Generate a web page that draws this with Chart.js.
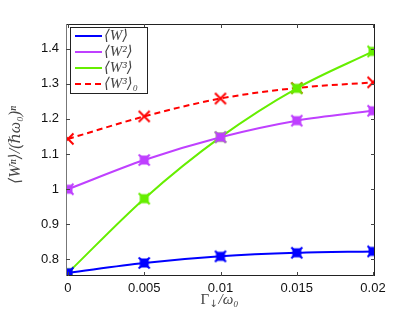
<!DOCTYPE html>
<html>
<head>
<meta charset="utf-8">
<script src="https://cdn.jsdelivr.net/npm/chart.js@4"></script>
<style>
  html, body { margin: 0; padding: 0; background: #fff; }
  #wrap { width: 415px; height: 313px; }
</style>
</head>
<body>
<div id="wrap"><canvas id="c" width="415" height="313"></canvas></div>
<script>
// valores
const gamma = [0, 0.005, 0.01, 0.015, 0.02];
const w1 = [0.762, 0.790, 0.809, 0.819, 0.823];
const w2 = [1.000, 1.083, 1.148, 1.195, 1.223];
const w3 = [0.762, 0.973, 1.148, 1.287, 1.392];
const w3_0 = [1.143, 1.207, 1.258, 1.288, 1.304];
const xTicks = [0, 0.005, 0.01, 0.015, 0.02];
const yTicks = [0.8, 0.9, 1.0, 1.1, 1.2, 1.3, 1.4];
const xLabels = ['0', '0.005', '0.01', '0.015', '0.02'];
const yLabels = ['0.8', '0.9', '1', '1.1', '1.2', '1.3', '1.4'];
const legendLabels = ['\u27E8W\u27E9', '\u27E8W\u00B2\u27E9', '\u27E8W\u00B3\u27E9', '\u27E8W\u00B3\u27E9\u2080'];

const BLUE = '#0000ff', PURPLE = '#bf40ff', GREEN = '#66ee00', RED = '#ff0000';

// marcador: quadrado cheio + x
function marker(color, square) {
  const c = document.createElement('canvas');
  c.width = 14; c.height = 14;
  const g = c.getContext('2d');
  g.fillStyle = color; g.strokeStyle = color; g.lineWidth = 2;
  if (square) g.fillRect(2.5, 2.5, 9, 9);
  g.beginPath();
  g.moveTo(1.5, 1.5); g.lineTo(12.5, 12.5);
  g.moveTo(12.5, 1.5); g.lineTo(1.5, 12.5);
  g.stroke();
  return c;
}

function ds(label, data, color, dashed) {
  return {
    label, data: gamma.map((x, i) => ({ x, y: data[i] })),
    borderColor: color, backgroundColor: color, borderWidth: 2,
    borderDash: dashed ? [6, 4] : [],
    cubicInterpolationMode: 'monotone',
    pointStyle: marker(color, !dashed), pointRadius: 7,
  };
}

const SERIF = '"Liberation Serif", "DejaVu Serif", serif';

const boxPlugin = {
  id: 'box',
  afterDraw(chart) {
    const { ctx, chartArea: a, scales: { x, y } } = chart;
    ctx.save();
    ctx.strokeStyle = '#222'; ctx.lineWidth = 1;
    ctx.strokeRect(a.left + 0.5, a.top + 0.5, a.right - a.left - 1, a.bottom - a.top - 1);
    ctx.strokeStyle = '#777';
    ctx.beginPath(); ctx.moveTo(a.left + 0.5, a.top); ctx.lineTo(a.left + 0.5, a.bottom); ctx.stroke();
    ctx.strokeStyle = '#444';
    ctx.beginPath();
    xTicks.forEach(v => {
      const px = Math.round(x.getPixelForValue(v)) + 0.5;
      ctx.moveTo(px, a.bottom); ctx.lineTo(px, a.bottom - 4);
      ctx.moveTo(px, a.top); ctx.lineTo(px, a.top + 4);
    });
    yTicks.forEach(v => {
      const py = Math.round(y.getPixelForValue(v)) + 0.5;
      ctx.moveTo(a.left, py); ctx.lineTo(a.left + 4, py);
      ctx.moveTo(a.right, py); ctx.lineTo(a.right - 4, py);
    });
    ctx.stroke();

    // legenda
    const lx = 70, ly = 27, lw = 77, lh = 66;
    ctx.fillStyle = '#fff';
    ctx.fillRect(lx, ly, lw, lh);
    ctx.strokeStyle = '#222';
    ctx.strokeRect(lx + 0.5, ly + 0.5, lw, lh);
    ctx.font = 'italic 15px ' + SERIF;
    ctx.textBaseline = 'middle';
    chart.data.datasets.forEach((d, i) => {
      const yy = ly + 9 + i * 16;
      ctx.strokeStyle = d.borderColor; ctx.lineWidth = 2;
      ctx.setLineDash(d.borderDash);
      ctx.beginPath(); ctx.moveTo(lx + 5, yy); ctx.lineTo(lx + 32, yy); ctx.stroke();
      ctx.setLineDash([]);
      ctx.fillStyle = '#444';
      ctx.fillText(legendLabels[i], lx + 34, yy);
    });

    // títulos dos eixos
    ctx.fillStyle = '#444';
    ctx.textAlign = 'left';
    ctx.textBaseline = 'alphabetic';
    const cx = (a.left + a.right) / 2 - 20, by = 304;
    ctx.font = '15px ' + SERIF;
    ctx.fillText('\u0393', cx, by);
    let w = ctx.measureText('\u0393').width;
    ctx.font = '10px "DejaVu Sans", sans-serif';
    ctx.fillText('\u2193', cx + w, by + 3);
    w += ctx.measureText('\u2193').width + 1;
    ctx.font = 'italic 15px ' + SERIF;
    ctx.fillText('/\u03C9\u2080', cx + w, by);

    ctx.font = 'italic 16px ' + SERIF;
    ctx.translate(20, (a.top + a.bottom) / 2 - 5);
    ctx.rotate(-Math.PI / 2);
    ctx.textAlign = 'center';
    ctx.fillText('\u27E8W\u207F\u27E9/(\u210F\u03C9\u2080)\u207F', 0, 0);
    ctx.restore();
  }
};

new Chart(document.getElementById('c'), {
  type: 'line',
  data: {
    datasets: [
      ds('W', w1, BLUE, false),
      ds('W2', w2, PURPLE, false),
      ds('W3', w3, GREEN, false),
      ds('W3_0', w3_0, RED, true),
    ],
  },
  options: {
    responsive: false, animation: false,
    layout: { padding: { top: 24, right: 40, left: 0, bottom: 0 } },
    plugins: { legend: { display: false }, tooltip: { enabled: false } },
    scales: {
      x: {
        type: 'linear', min: -0.00013, max: 0.02013,
        afterBuildTicks: s => { s.ticks = xTicks.map(v => ({ value: v })); },
        afterFit: s => { s.height = 37; },
        grid: { display: false, drawTicks: false }, border: { display: false },
        ticks: {
          callback: (v, i) => xLabels[i], color: '#111', padding: 5,
          font: { family: '"Liberation Sans", Arial, sans-serif', size: 13 },
        },
      },
      y: {
        min: 0.753, max: 1.47,
        afterBuildTicks: s => { s.ticks = yTicks.map(v => ({ value: v })); },
        afterFit: s => { s.width = 66; },
        grid: { display: false, drawTicks: false }, border: { display: false },
        ticks: {
          callback: (v, i) => yLabels[i], color: '#111', padding: 7,
          font: { family: '"Liberation Sans", Arial, sans-serif', size: 13 },
        },
      },
    },
  },
  plugins: [boxPlugin],
});
</script>
</body>
</html>
